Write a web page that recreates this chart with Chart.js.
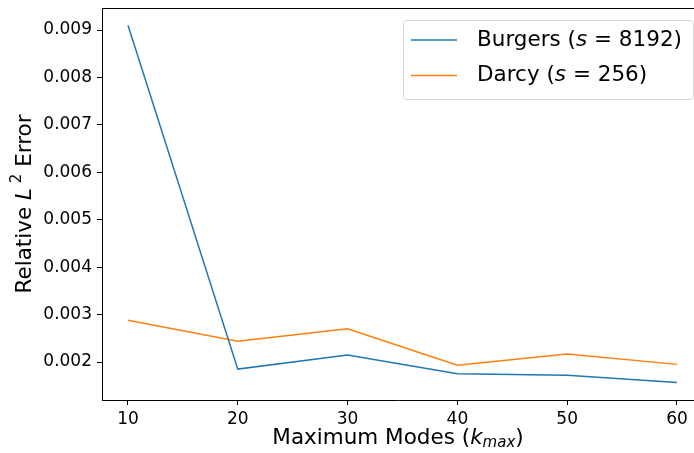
<!DOCTYPE html>
<html lang="en">
<head>
    <meta charset="UTF-8">
    <title>Relative L2 Error vs Maximum Modes</title>
    <script src="https://cdn.jsdelivr.net/npm/chart.js"></script>
    <style>
        html, body { margin: 0; padding: 0; background: #fff; overflow: hidden; }
        canvas { display: block; }
    </style>
</head>
<body>
    <canvas id="chart" width="694" height="453"></canvas>

    <script>
        // data
        const modes = [10, 20, 30, 40, 50, 60];
        const burgersError = [0.00910, 0.00185, 0.00215, 0.00175, 0.00172, 0.00157];
        const darcyError = [0.00288, 0.00244, 0.00270, 0.00193, 0.00217, 0.00195];
        const xTicks = [10, 20, 30, 40, 50, 60];
        const yTicks = [0.002, 0.003, 0.004, 0.005, 0.006, 0.007, 0.008, 0.009];

        const BLUE = '#1f77b4';
        const ORANGE = '#ff7f0e';
        const FONT = '"DejaVu Sans", sans-serif';

        // draw a run of text pieces with their own font / offset
        function drawRuns(ctx, runs, x, y, align) {
            let total = 0;
            runs.forEach(r => { ctx.font = r.font; r.w = ctx.measureText(r.t).width; total += r.w; });
            let cx = align === 'center' ? x - total / 2 : x;
            ctx.textAlign = 'left';
            ctx.textBaseline = 'middle';
            runs.forEach(r => {
                ctx.font = r.font;
                ctx.fillText(r.t, cx, y + (r.dy || 0));
                cx += r.w;
            });
        }

        const decorations = {
            id: 'decorations',
            afterDraw(chart) {
                const ctx = chart.ctx;
                const area = chart.chartArea;
                ctx.save();

                // top spine
                ctx.strokeStyle = '#000';
                ctx.lineWidth = 1;
                ctx.beginPath();
                ctx.moveTo(area.left, area.top + 0.5);
                ctx.lineTo(area.right, area.top + 0.5);
                ctx.stroke();

                ctx.fillStyle = '#000';
                const big = '21.5px ' + FONT;
                const bigIt = 'italic 21.5px ' + FONT;
                const small = 'italic 15px ' + FONT;

                // x title
                drawRuns(ctx, [
                    { t: 'Maximum Modes (', font: big },
                    { t: 'k', font: bigIt },
                    { t: 'max', font: small, dy: 5 },
                    { t: ')', font: big }
                ], (area.left + area.right) / 2 + 0, 438, 'center');

                // y title
                ctx.save();
                ctx.translate(25, (area.top + area.bottom) / 2);
                ctx.rotate(-Math.PI / 2);
                drawRuns(ctx, [
                    { t: 'Relative ', font: big },
                    { t: 'L', font: bigIt },
                    { t: ' 2', font: '15px ' + FONT, dy: -8 },
                    { t: ' Error', font: big }
                ], 0, 0, 'center');
                ctx.restore();

                // legend
                const lx = 403, ly = 20, lw = 291, lh = 79;
                ctx.fillStyle = 'rgba(255,255,255,0.8)';
                ctx.strokeStyle = '#d6d6d6';
                ctx.lineWidth = 1;
                ctx.beginPath();
                ctx.roundRect(lx + 0.5, ly + 0.5, lw - 1, lh, 3);
                ctx.fill();
                ctx.stroke();

                const entries = [
                    { color: BLUE, runs: [
                        { t: 'Burgers (', font: big },
                        { t: 's', font: bigIt },
                        { t: ' = ', font: big },
                        { t: '8192)', font: big }
                    ] },
                    { color: ORANGE, runs: [
                        { t: 'Darcy (', font: big },
                        { t: 's', font: bigIt },
                        { t: ' = ', font: big },
                        { t: '256)', font: big }
                    ] }
                ];
                entries.forEach((e, i) => {
                    const y = 40 + i * 35.5;
                    ctx.strokeStyle = e.color;
                    ctx.lineWidth = 1.5;
                    ctx.beginPath();
                    ctx.moveTo(411, y);
                    ctx.lineTo(457, y);
                    ctx.stroke();
                    ctx.fillStyle = '#000';
                    drawRuns(ctx, e.runs, 477, y, 'left');
                });

                ctx.restore();
            }
        };

        new Chart(document.getElementById('chart'), {
            type: 'line',
            data: {
                datasets: [
                    {
                        label: 'Burgers (s = 8192)',
                        data: modes.map((m, i) => ({ x: m, y: burgersError[i] })),
                        borderColor: BLUE,
                        borderWidth: 1.5,
                        pointRadius: 0,
                        tension: 0
                    },
                    {
                        label: 'Darcy (s = 256)',
                        data: modes.map((m, i) => ({ x: m, y: darcyError[i] })),
                        borderColor: ORANGE,
                        borderWidth: 1.5,
                        pointRadius: 0,
                        tension: 0
                    }
                ]
            },
            options: {
                responsive: false,
                animation: false,
                devicePixelRatio: 1,
                layout: { padding: { top: 8, right: 0, left: 0, bottom: 0 } },
                plugins: {
                    legend: { display: false },
                    tooltip: { enabled: false }
                },
                scales: {
                    x: {
                        type: 'linear',
                        min: 7.632,
                        max: 61.55,
                        afterBuildTicks: s => { s.ticks = xTicks.map(v => ({ value: v })); },
                        afterFit: s => {
                            s.height = 53;
                            s.paddingLeft = 0; s.paddingRight = 0;
                        },
                        grid: { drawOnChartArea: false, drawTicks: true, tickLength: 5, color: '#000' },
                        border: { display: true, color: '#000', width: 1 },
                        ticks: {
                            color: '#000',
                            padding: 4,
                            maxRotation: 0,
                            font: { family: FONT, size: 17 },
                            callback: v => String(v)
                        }
                    },
                    y: {
                        min: 0.0011988,
                        max: 0.009464,
                        afterBuildTicks: s => { s.ticks = yTicks.map(v => ({ value: v })); },
                        afterFit: s => {
                            s.width = 102;
                            s.paddingTop = 0; s.paddingBottom = 0;
                        },
                        grid: { drawOnChartArea: false, drawTicks: true, tickLength: 5, color: '#000' },
                        border: { display: true, color: '#000', width: 1 },
                        ticks: {
                            color: '#000',
                            padding: 5,
                            font: { family: FONT, size: 17 },
                            callback: v => v.toFixed(3)
                        }
                    }
                }
            },
            plugins: [decorations]
        });
    </script>
</body>
</html>
